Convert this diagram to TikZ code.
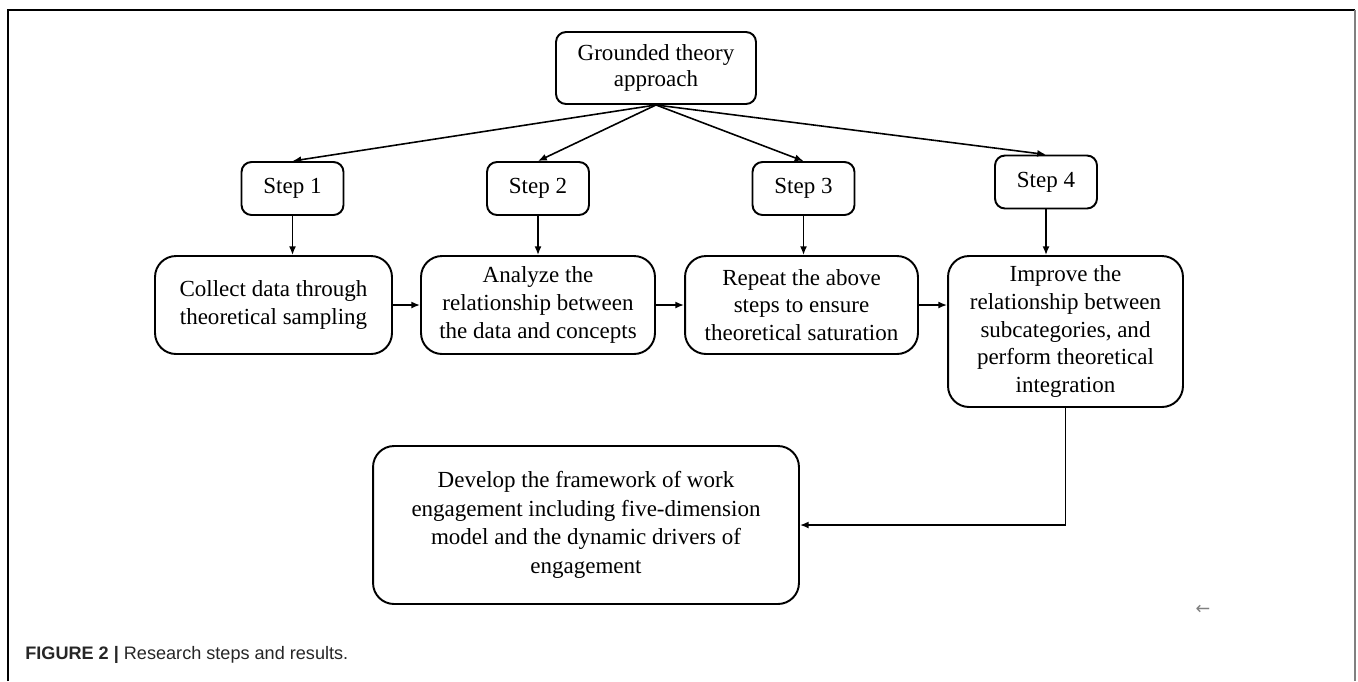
\documentclass[tikz,border=0pt]{standalone}
\usepackage{fontspec}
\setmainfont{Liberation Serif}
\setsansfont{Liberation Sans}
\newfontfamily\symfont{DejaVu Sans}
\usepackage{tikz}
\usetikzlibrary{arrows.meta}
\tikzstyle{arrow} = [-{Latex[length=5pt,width=4pt]}, line width=0.9pt]
\tikzstyle{stepbox} = [draw, line width=1.1pt, rounded corners=0.2cm, align=center, inner sep=0pt,
  minimum width=2.04cm, minimum height=1.06cm, font=\fontsize{13.1pt}{15.8pt}\selectfont]
\tikzstyle{procbox} = [draw, line width=1.1pt, rounded corners=0.42cm, align=center, inner sep=0pt,
  minimum height=1.96cm, font=\fontsize{13.1pt}{15.8pt}\selectfont]

\begin{document}
\begin{tikzpicture}[x=0.02cm, y=-0.02cm]
		\useasboundingbox (0,0) rectangle (1358,681);
		% frame
		\draw[line width=0.9pt] (8,681) -- (8,10) -- (1355,10);
		\draw[gray, line width=1.5pt] (1355,10) -- (1355,681);

		\node (ground) [stepbox, minimum width=4cm, minimum height=1.44cm, font=\fontsize{13.1pt}{14.8pt}\selectfont] at (656,68) {Grounded theory\\approach};
		\node (step1) [stepbox] at (292.5,188.5) {Step 1};
		\node (step2) [stepbox] at (538,188.5) {Step 2};
		\node (step3) [stepbox] at (803.5,188.5) {Step 3};
		\node (step4) [stepbox] at (1046,182) {Step 4};

		\node (collect) [procbox, minimum width=4.74cm] at (273.5,305) {Collect data through\\theoretical sampling};
		\node (analyze) [procbox, minimum width=4.68cm] at (538,305) {Analyze the\\relationship between\\the data and concepts};
		\node (repeat) [procbox, minimum width=4.66cm] at (801.5,305) {Repeat the above\\steps to ensure\\theoretical saturation};
		\node (improve) [procbox, minimum width=4.7cm, minimum height=3.02cm] at (1065.5,331.5) {Improve the\\relationship between\\subcategories, and\\perform theoretical\\integration};
		\node (develop) [procbox, minimum width=8.52cm, minimum height=3.16cm, font=\fontsize{13.1pt}{16.2pt}\selectfont] at (586,525) {Develop the framework of work\\engagement including five-dimension\\model and the dynamic drivers of\\engagement};

		\node (mark) [text=gray, font=\symfont\fontsize{10pt}{10pt}\selectfont] at (1203,610) {←};
		\node (caption) [anchor=base west, inner sep=0pt, font=\sffamily\fontsize{10.3pt}{12pt}\selectfont, text=black!85] at (25,659) {{\bfseries FIGURE 2 |} Research steps and results.};

		\draw [arrow] (ground.south) -- (step1.north);
		\draw [arrow] (ground.south) -- (step2.north);
		\draw [arrow] (ground.south) -- (step3.north);
		\draw [arrow] (ground.south) -- (step4.north);
		\draw [arrow] (step1.south) -- (step1.south |- collect.north);
		\draw [arrow] (step2.south) -- (analyze.north);
		\draw [arrow] (step3.south) -- (step3.south |- repeat.north);
		\draw [arrow] (step4.south) -- (step4.south |- improve.north);
		\draw [arrow] (collect.east) -- (analyze.west);
		\draw [arrow] (analyze.east) -- (repeat.west);
		\draw [arrow] (repeat.east) -- (repeat.east -| improve.west);
		\draw [arrow] (improve.south) |- (develop.east);
	\end{tikzpicture}
\end{document}
